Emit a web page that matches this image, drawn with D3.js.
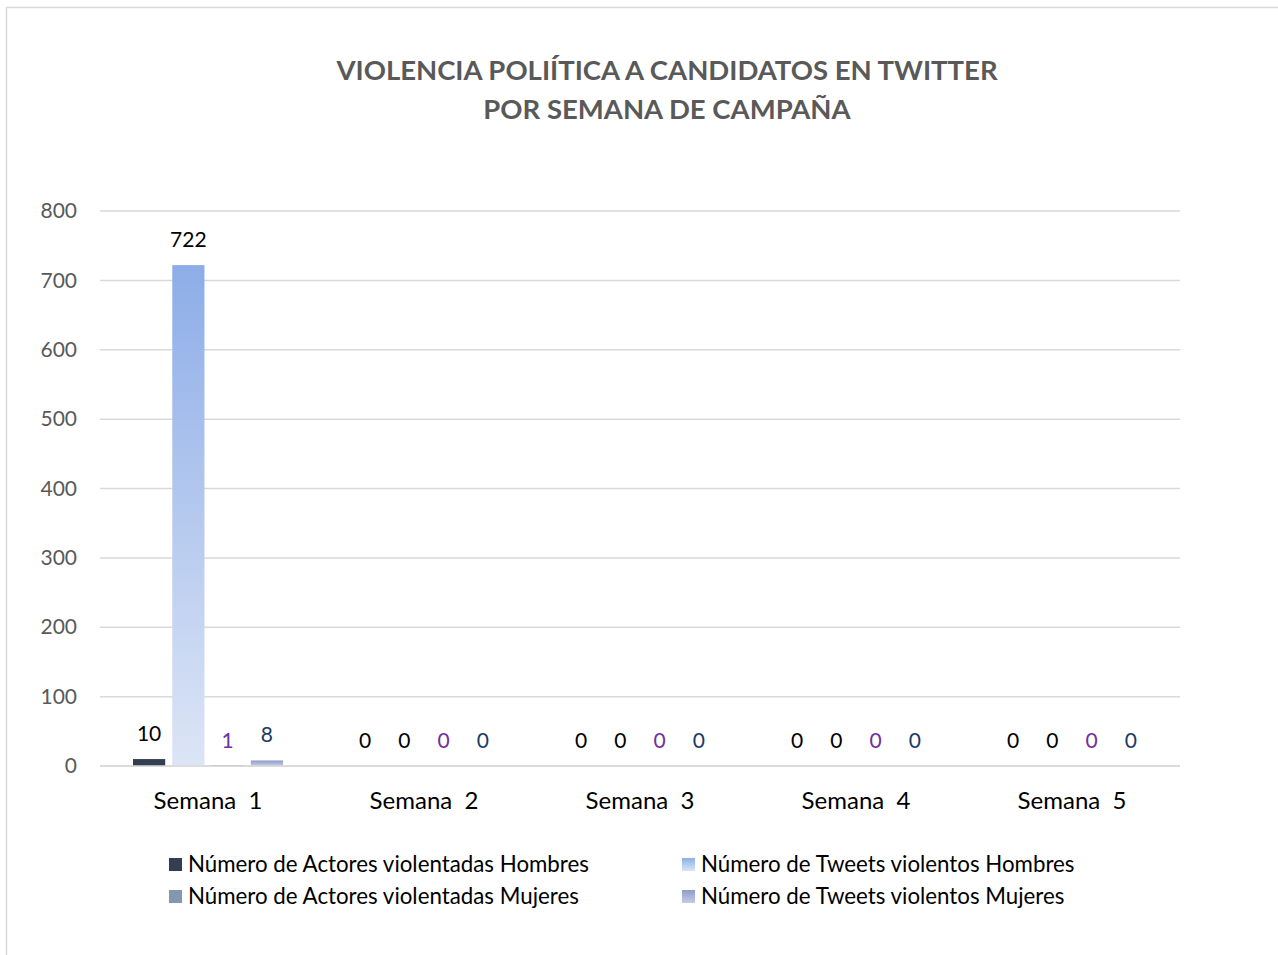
<!DOCTYPE html>
<html>
<head>
<meta charset="utf-8">
<script src="https://cdn.jsdelivr.net/npm/d3@7"></script>
<style>
  body { margin: 0; background: #fff; }
  text { font-family: Lato, "Open Sans", sans-serif; }
</style>
</head>
<body>
<script>
var categories = ['Semana  1', 'Semana  2', 'Semana  3', 'Semana  4', 'Semana  5'];
var seriesNames = [
  'Número de Actores violentadas Hombres',
  'Número de Tweets violentos Hombres',
  'Número de Actores violentadas Mujeres',
  'Número de Tweets violentos Mujeres'
];
var actoresHombres = [10, 0, 0, 0, 0];
var tweetsHombres = [722, 0, 0, 0, 0];
var actoresMujeres = [1, 0, 0, 0, 0];
var tweetsMujeres = [8, 0, 0, 0, 0];
var yTicks = [0, 100, 200, 300, 400, 500, 600, 700, 800];

var seriesValues = [actoresHombres, tweetsHombres, actoresMujeres, tweetsMujeres];
var labelColors = ['#000000', '#000000', '#7030A0', '#203864'];

var width = 1278, height = 955;
var svg = d3.select('body').append('svg')
  .attr('width', width)
  .attr('height', height);

// gradients like the office fills
var defs = svg.append('defs');
function grad(id, c1, c2) {
  var g = defs.append('linearGradient').attr('id', id)
    .attr('x1', 0).attr('y1', 0).attr('x2', 0).attr('y2', 1);
  g.append('stop').attr('offset', '0%').attr('stop-color', c1);
  g.append('stop').attr('offset', '100%').attr('stop-color', c2);
}
grad('g1', '#8DADE8', '#DCE5F5');
grad('g3', '#8E9CCB', '#C5CCE6');
var fills = ['#333F50', 'url(#g1)', '#8497B0', 'url(#g3)'];

svg.append('rect')
  .attr('x', 6.5).attr('y', 7.5)
  .attr('width', width).attr('height', height)
  .attr('fill', 'none')
  .attr('stroke', '#d9d9d9')
  .attr('stroke-width', 1.5);

svg.append('text')
  .attr('x', 667).attr('y', 80)
  .attr('text-anchor', 'middle')
  .attr('font-size', 27.5).attr('font-weight', 'bold')
  .attr('fill', '#595959')
  .text('VIOLENCIA POLIÍTICA A CANDIDATOS EN TWITTER');
svg.append('text')
  .attr('x', 667).attr('y', 119)
  .attr('text-anchor', 'middle')
  .attr('font-size', 27.5).attr('font-weight', 'bold')
  .attr('fill', '#595959')
  .text('POR SEMANA DE CAMPAÑA');

var plotL = 100, plotR = 1180, plotT = 211, plotB = 766;

var x0 = d3.scaleBand().domain(categories).range([plotL, plotR]);
var x1 = d3.scaleBand().domain(d3.range(4)).range([33, x0.bandwidth() - 33]).paddingInner(0.18);
var y = d3.scaleLinear().domain([0, 800]).range([plotB, plotT]);

// gridlines
svg.append('g').selectAll('line').data(yTicks).enter().append('line')
  .attr('x1', plotL).attr('x2', plotR)
  .attr('y1', function(d) { return y(d); })
  .attr('y2', function(d) { return y(d); })
  .attr('stroke', '#d9d9d9')
  .attr('stroke-width', 1.5);

var yAxis = svg.append('g')
  .attr('transform', 'translate(' + plotL + ',0)')
  .call(d3.axisLeft(y).tickValues(yTicks).tickSize(0).tickPadding(23));
yAxis.select('.domain').remove();
yAxis.selectAll('text').attr('font-size', 21).attr('fill', '#595959')
  .style('font-family', 'Lato, "Open Sans", sans-serif');

var groups = svg.append('g').selectAll('g').data(categories).enter().append('g')
  .attr('transform', function(d) { return 'translate(' + x0(d) + ',0)'; });

function rows(c, i) {
  return seriesValues.map(function(s, k) { return { k: k, v: s[i] }; });
}

groups.selectAll('rect').data(rows).enter().append('rect')
  .attr('x', function(d) { return x1(d.k); })
  .attr('width', x1.bandwidth())
  .attr('y', function(d) { return y(d.v); })
  .attr('height', function(d) { return plotB - y(d.v); })
  .attr('fill', function(d) { return fills[d.k]; });

groups.selectAll('text.val').data(rows).enter().append('text')
  .attr('class', 'val')
  .attr('x', function(d) { return x1(d.k) + x1.bandwidth() / 2; })
  .attr('y', function(d) { return (d.k == 2 ? y(0) : y(d.v)) - 18; })
  .attr('text-anchor', 'middle')
  .attr('font-size', 21)
  .attr('fill', function(d) { return labelColors[d.k]; })
  .text(function(d) { return d.v; });

// axis baseline
svg.append('line')
  .attr('x1', plotL).attr('x2', plotR)
  .attr('y1', plotB).attr('y2', plotB)
  .attr('stroke', '#d9d9d9').attr('stroke-width', 1.5);

var xAxis = svg.append('g')
  .attr('transform', 'translate(0,' + plotB + ')')
  .call(d3.axisBottom(x0).tickSize(0).tickPadding(26));
xAxis.select('.domain').remove();
xAxis.selectAll('text').attr('font-size', 24).attr('fill', '#000')
  .style('font-family', 'Lato, "Open Sans", sans-serif')
  .style('white-space', 'pre');

// legend
var legendPos = [[169, 858], [682, 858], [169, 890], [682, 890]];
var legend = svg.append('g').selectAll('g').data(seriesNames).enter().append('g')
  .attr('transform', function(d, i) { return 'translate(' + legendPos[i][0] + ',' + legendPos[i][1] + ')'; });
legend.append('rect')
  .attr('width', 13).attr('height', 13)
  .attr('fill', function(d, i) { return fills[i]; });
legend.append('text')
  .attr('x', 19).attr('y', 14)
  .attr('font-size', 22.3)
  .attr('fill', '#000')
  .text(function(d) { return d; });
</script>
</body>
</html>
